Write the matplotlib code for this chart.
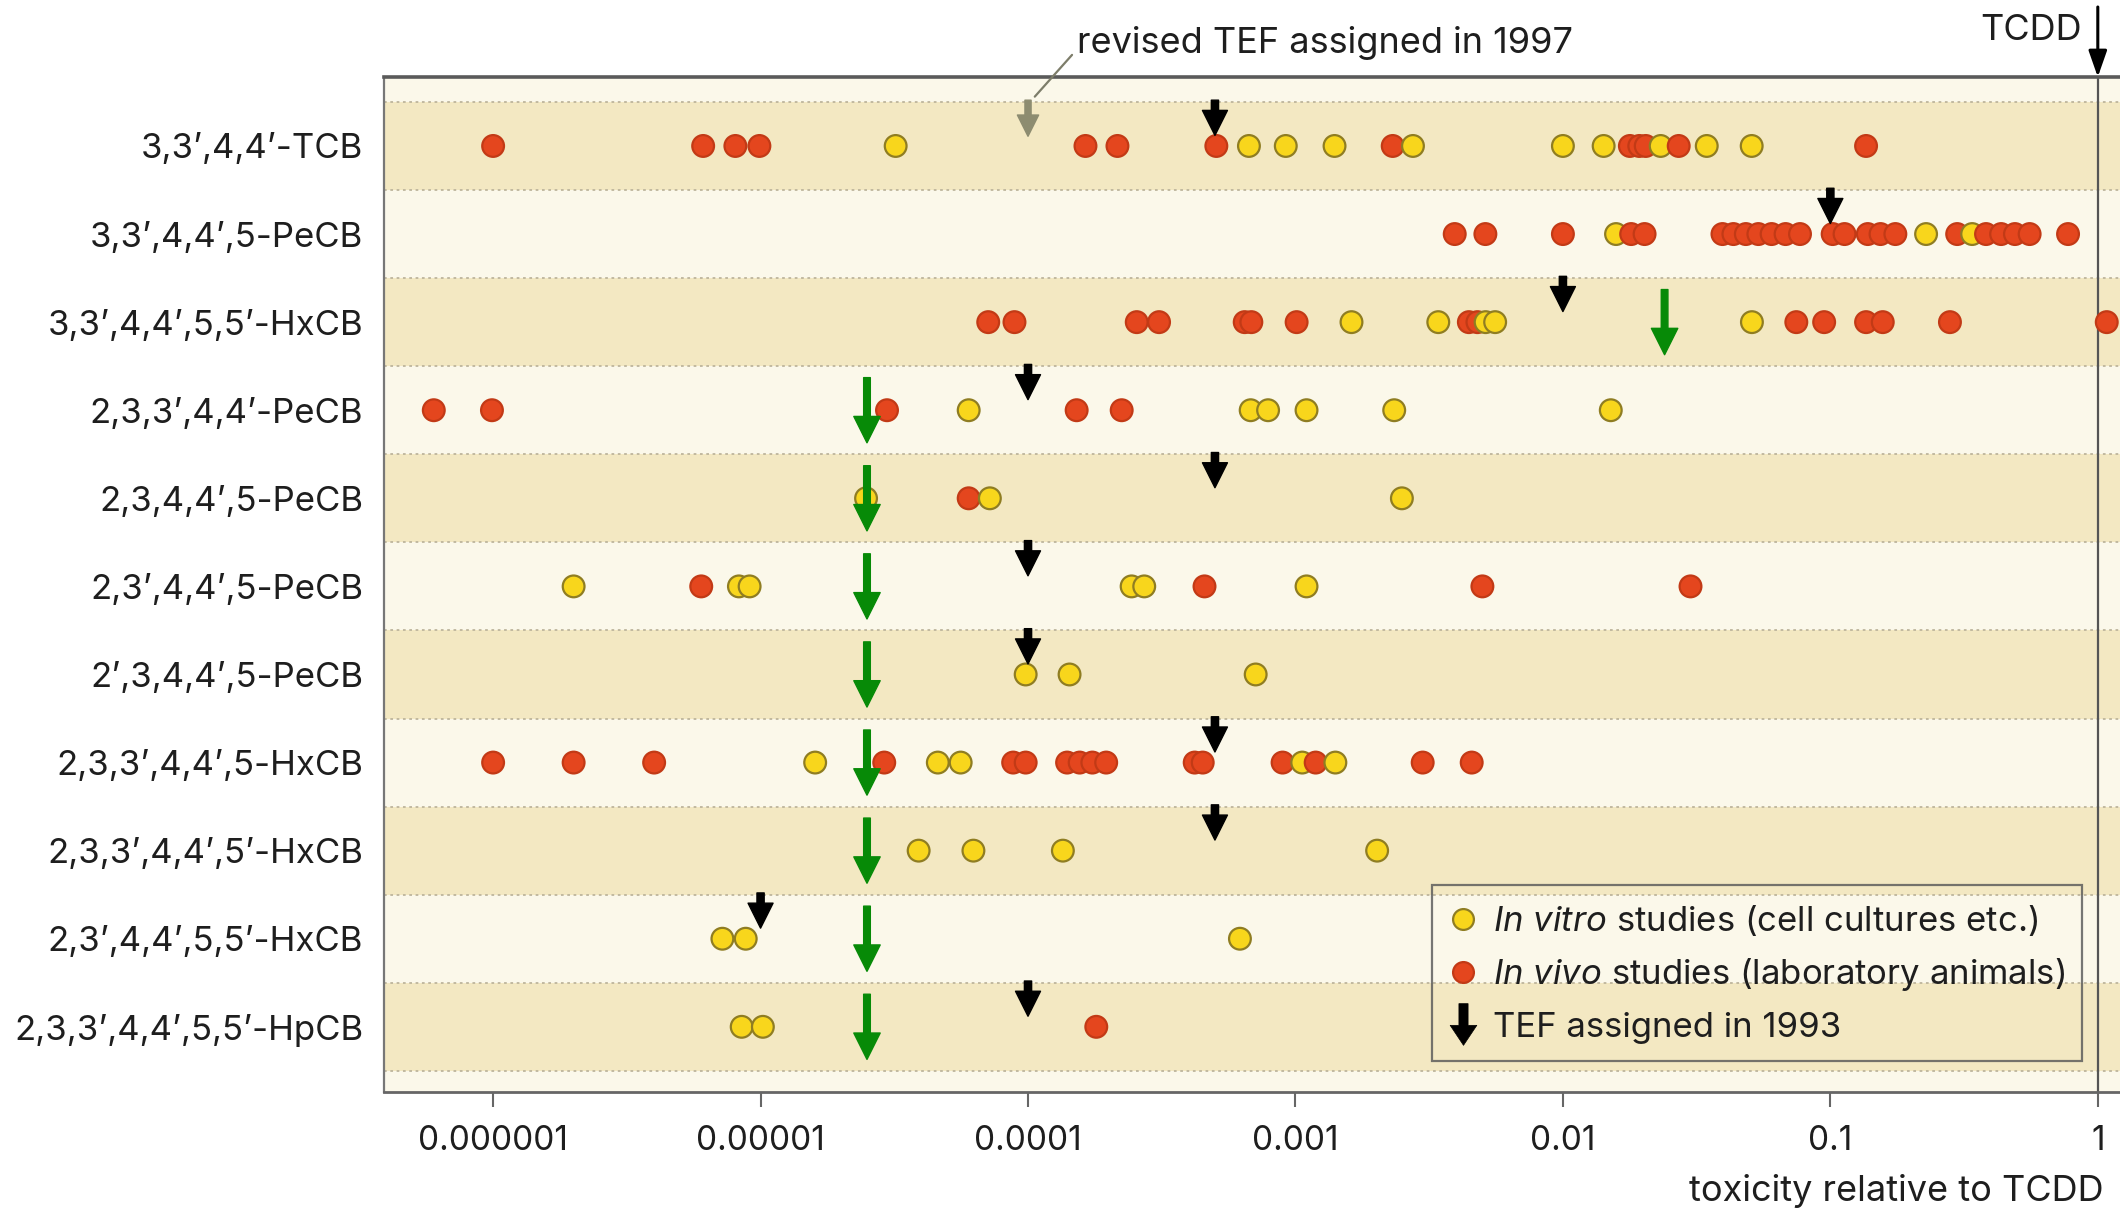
import numpy as np
import matplotlib
matplotlib.use("Agg")
import matplotlib.pyplot as plt
from matplotlib.lines import Line2D
from matplotlib.path import Path
from matplotlib.patches import ArrowStyle

FONT = 'Inter'
plt.rcParams['font.family'] = [FONT, 'Liberation Sans', 'DejaVu Sans']
plt.rcParams['mathtext.fontset'] = 'custom'
plt.rcParams['mathtext.rm'] = FONT
plt.rcParams['mathtext.it'] = FONT + ':italic'

# ---------------- data ----------------
compounds = ["3,3’,4,4’-TCB", "3,3’,4,4’,5-PeCB", "3,3’,4,4’,5,5’-HxCB",
             "2,3,3’,4,4’-PeCB", "2,3,4,4’,5-PeCB", "2,3’,4,4’,5-PeCB",
             "2’,3,4,4’,5-PeCB", "2,3,3’,4,4’,5-HxCB", "2,3,3’,4,4’,5’-HxCB",
             "2,3’,4,4’,5,5’-HxCB", "2,3,3’,4,4’,5,5’-HpCB"]

in_vitro = [
    [3.2e-5, 6.7e-4, 9.2e-4, 1.4e-3, 2.75e-3, 0.010, 0.0142, 0.0232, 0.0345, 0.0508],
    [0.0158, 0.228, 0.339],
    [1.62e-3, 3.42e-3, 5.14e-3, 5.58e-3, 0.0509],
    [6.0e-5, 6.8e-4, 7.9e-4, 1.1e-3, 2.34e-3, 0.0151],
    [2.48e-5, 7.2e-5, 2.5e-3],
    [2.0e-6, 8.3e-6, 9.1e-6, 2.44e-4, 2.72e-4, 1.1e-3],
    [9.8e-5, 1.43e-4, 7.1e-4],
    [1.6e-5, 4.6e-5, 5.6e-5, 1.06e-3, 1.41e-3],
    [3.9e-5, 6.25e-5, 1.35e-4, 2.02e-3],
    [7.2e-6, 8.8e-6, 6.2e-4],
    [8.5e-6, 1.02e-5],
]

in_vivo = [
    [1.0e-6, 6.1e-6, 8.05e-6, 9.9e-6, 1.64e-4, 2.16e-4, 5.06e-4, 2.31e-3,
     0.0178, 0.0193, 0.0204, 0.0271, 0.136],
    [3.94e-3, 5.13e-3, 0.010, 0.018, 0.0202, 0.0395, 0.0434, 0.0483, 0.0538,
     0.0603, 0.068, 0.077, 0.102, 0.113, 0.138, 0.154, 0.175, 0.298, 0.382,
     0.435, 0.49, 0.556, 0.774],
    [7.1e-5, 8.9e-5, 2.55e-4, 3.09e-4, 6.46e-4, 6.84e-4, 1.01e-3, 4.45e-3,
     4.79e-3, 0.0746, 0.0948, 0.136, 0.157, 0.28, 1.08],
    [6.0e-7, 9.9e-7, 2.97e-5, 1.52e-4, 2.24e-4],
    [6.0e-5],
    [6.0e-6, 4.57e-4, 5.0e-3, 0.030],
    [],
    [1.0e-6, 2.0e-6, 4.0e-6, 2.9e-5, 8.8e-5, 9.8e-5, 1.4e-4, 1.56e-4, 1.74e-4,
     1.96e-4, 4.2e-4, 4.5e-4, 8.95e-4, 1.19e-3, 2.99e-3, 4.56e-3],
    [],
    [],
    [1.8e-4],
]

tef_1993 = [5e-4, 0.1, 0.01, 1e-4, 5e-4, 1e-4, 1e-4, 5e-4, 5e-4, 1e-5, 1e-4]
tef_green = [None, None, 0.024, 2.5e-5, 2.5e-5, 2.5e-5, 2.5e-5, 2.5e-5, 2.5e-5, 2.5e-5, 2.5e-5]
tef_revised_1997 = 1e-4   # for 3,3',4,4'-TCB
tcdd = 1.0

xtick_vals = [1e-6, 1e-5, 1e-4, 1e-3, 1e-2, 0.1, 1]
xtick_labels = ["0.000001", "0.00001", "0.0001", "0.001", "0.01", "0.1", "1"]

# ---------------- styling ----------------
YELLOW, YELLOW_EDGE = '#f8d61c', '#8f7d22'
RED, RED_EDGE = '#e4461e', '#c23a16'
BAND_DARK, BAND_LIGHT = '#f3e8c2', '#fbf8ea'
TXT = '#1e1e1e'
FS = 24

W, H = 2120, 1213
fig = plt.figure(figsize=(W / 100, H / 100), dpi=100)
ax_l, ax_r, ax_t, ax_b = 384, 2120, 77, 1092
ax = fig.add_axes([ax_l / W, 1 - ax_b / H, (ax_r - ax_l) / W, (ax_b - ax_t) / H])

n = len(compounds)
ax.set_xscale('log')
ax.set_xlim(10 ** -6.408, 10 ** 0.083)
ax.set_ylim(10.74, -0.783)

# background bands
ax.axhspan(-0.783, -0.5, color=BAND_LIGHT, zorder=0, lw=0)
ax.axhspan(n - 0.5, 10.74, color=BAND_LIGHT, zorder=0, lw=0)
for i in range(n):
    ax.axhspan(i - 0.5, i + 0.5, color=BAND_DARK if i % 2 == 0 else BAND_LIGHT,
               zorder=0, lw=0)
for i in range(n + 1):
    ax.axhline(i - 0.5, color='#bdb59c', lw=1.3, ls=(0, (1.5, 2)), zorder=0.5)

# TCDD reference line
ax.axvline(tcdd, color='#555555', lw=1.6, zorder=1)

# points (sorted by x so right-hand points overlap left ones)
for i in range(n):
    xs = np.array(in_vitro[i] + in_vivo[i], dtype=float)
    fc = np.array([YELLOW] * len(in_vitro[i]) + [RED] * len(in_vivo[i]))
    ec = np.array([YELLOW_EDGE] * len(in_vitro[i]) + [RED_EDGE] * len(in_vivo[i]))
    order = np.argsort(xs, kind='stable')
    ax.scatter(xs[order], np.full(len(xs), i), s=245, c=fc[order],
               edgecolors=ec[order], linewidths=1.6, zorder=3, clip_on=False)

# arrows
black_style = ArrowStyle.Simple(head_length=0.9, head_width=0.9, tail_width=0.26)
for i, v in enumerate(tef_1993):
    ax.annotate('', xy=(v, i - 0.12), xytext=(v, i - 0.52),
                arrowprops=dict(arrowstyle=black_style, mutation_scale=20,
                                color='black', shrinkA=0, shrinkB=0), zorder=5)

green_style = ArrowStyle.Simple(head_length=0.95, head_width=0.95, tail_width=0.24)
for i, v in enumerate(tef_green):
    if v is None:
        continue
    ax.annotate('', xy=(v, i + 0.37), xytext=(v, i - 0.37),
                arrowprops=dict(arrowstyle=green_style, mutation_scale=20,
                                color='#078a07', shrinkA=0, shrinkB=0), zorder=6)

# revised TEF 1997 (grey arrow) and its annotation
ax.annotate('', xy=(tef_revised_1997, -0.11), xytext=(tef_revised_1997, -0.52),
            arrowprops=dict(arrowstyle=black_style, mutation_scale=17,
                            color='#8d8c70', shrinkA=0, shrinkB=0), zorder=5)
ax.annotate('revised TEF assigned in 1997', xy=(tef_revised_1997 * 1.06, -0.56),
            xytext=(1077 / W, 1 - 43 / H), textcoords='figure fraction',
            ha='left', va='center', fontsize=FS + 2, color=TXT,
            arrowprops=dict(arrowstyle='-', color='#7d7d6a', lw=1.6,
                            shrinkA=0, shrinkB=0, relpos=(-0.01, 0.15)),
            annotation_clip=False, zorder=6)

# TCDD arrow above plot
ax.annotate('', xy=(tcdd, -0.783), xytext=(0, 70), textcoords='offset pixels',
            arrowprops=dict(arrowstyle=ArrowStyle('-|>', head_length=0.8, head_width=0.28),
                            mutation_scale=20, color='black', lw=2.2,
                            shrinkA=0, shrinkB=0), annotation_clip=False)
fig.text(2082 / W, 1 - 31 / H, 'TCDD', ha='right', va='center', fontsize=FS + 2,
         color=TXT)

# axes styling
ax.set_xticks(xtick_vals)
ax.set_xticklabels(xtick_labels)
ax.xaxis.set_minor_locator(matplotlib.ticker.NullLocator())
ax.tick_params(axis='x', direction='out', length=11, width=1.5, color='#666666',
               labelsize=FS, labelcolor=TXT, pad=13)
ax.set_yticks(range(n))
ax.set_yticklabels(compounds)
ax.tick_params(axis='y', length=0, labelsize=FS + 1, labelcolor=TXT, pad=15)

ax.spines['right'].set_visible(False)
ax.spines['top'].set_color('#5a5a5a')
ax.spines['top'].set_linewidth(2.6)
ax.spines['left'].set_color('#777777')
ax.spines['left'].set_linewidth(1.6)
ax.spines['bottom'].set_color('#666666')
ax.spines['bottom'].set_linewidth(2.0)

fig.text(2104 / W, 1 - 1191 / H, 'toxicity relative to TCDD', ha='right',
         va='center', fontsize=FS + 2, color=TXT)

# legend
arrow_marker = Path([(-0.11, 0.5), (0.11, 0.5), (0.11, -0.02), (0.32, -0.02),
                     (0.0, -0.5), (-0.32, -0.02), (-0.11, -0.02), (-0.11, 0.5)],
                    [Path.MOVETO] + [Path.LINETO] * 6 + [Path.CLOSEPOLY])
handles = [
    Line2D([], [], ls='none', marker='o', ms=15, mfc=YELLOW, mec=YELLOW_EDGE, mew=1.6),
    Line2D([], [], ls='none', marker='o', ms=15, mfc=RED, mec=RED_EDGE, mew=1.6),
    Line2D([], [], ls='none', marker=arrow_marker, ms=30, mfc='black', mec='black', mew=0.5),
]
labels = [r'$\it{In\ vitro}$ studies (cell cultures etc.)',
          r'$\it{In\ vivo}$ studies (laboratory animals)',
          'TEF assigned in 1993']
leg = ax.legend(handles, labels, loc='lower right',
                bbox_to_anchor=(2082 / W, 1 - 1061 / H), bbox_transform=fig.transFigure,
                borderaxespad=0, fontsize=FS + 1, frameon=True, fancybox=False,
                handlelength=0.8, handletextpad=0.45, labelspacing=0.53,
                borderpad=0.5)
leg.get_frame().set_facecolor('none')
leg.get_frame().set_edgecolor('#555555')
leg.get_frame().set_linewidth(1.6)
leg.set_zorder(7)
for t in leg.get_texts():
    t.set_color(TXT)

fig.savefig('out.png', dpi=100, facecolor='white')
